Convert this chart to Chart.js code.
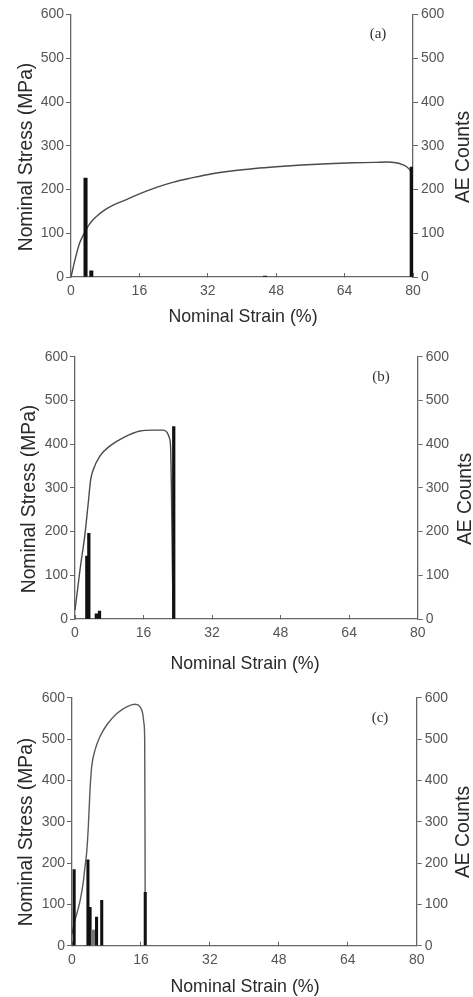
<!DOCTYPE html>
<html>
<head>
<meta charset="utf-8">
<script src="https://cdn.jsdelivr.net/npm/chart.js@4/dist/chart.umd.min.js"></script>
<style>
    body { margin:0; background:#fff; width:473px; height:997px; position:relative; overflow:hidden; }
    canvas { position:absolute; left:0; }
    .t { position:absolute; font-family:'Liberation Sans', Arial, sans-serif; font-size:17.8px; color:#2a2a2a; white-space:nowrap; transform:translate(-50%,-50%) scaleY(1.08); }
    .r { font-size:19.3px; transform:translate(-50%,-50%) rotate(-90deg); }
    .p { position:absolute; font-family:'Liberation Serif', 'Times New Roman', serif; font-size:15px; color:#333; transform:translate(-50%,-50%); }
</style>
</head>
<body>
<canvas id="chart-a" width="473" height="330" style="top:0px;"></canvas>
<canvas id="chart-b" width="473" height="330" style="top:330px;"></canvas>
<canvas id="chart-c" width="473" height="337" style="top:660px;"></canvas>

<div class="t" style="left:243px; top:316px;">Nominal Strain (%)</div>
<div class="t" style="left:245px; top:663px;">Nominal Strain (%)</div>
<div class="t" style="left:245px; top:986px;">Nominal Strain (%)</div>

<div class="t r" style="left:26px; top:157px;">Nominal Stress (MPa)</div>
<div class="t r" style="left:29px; top:499px;">Nominal Stress (MPa)</div>
<div class="t r" style="left:26px; top:832px;">Nominal Stress (MPa)</div>

<div class="t r" style="left:463px; top:157px;">AE Counts</div>
<div class="t r" style="left:465px; top:499px;">AE Counts</div>
<div class="t r" style="left:463px; top:832px;">AE Counts</div>

<div class="p" style="left:378px; top:33px;">(a)</div>
<div class="p" style="left:381px; top:376px;">(b)</div>
<div class="p" style="left:380px; top:717px;">(c)</div>

<script>
const strainTicks = [0, 16, 32, 48, 64, 80];
const stressTicks = [0, 100, 200, 300, 400, 500, 600];

// (a)
const aStrain   = [0, 1, 2, 3, 4, 5, 6, 8, 10, 13, 16, 20, 24, 28, 33, 38, 43, 48, 54, 60, 66, 71, 74, 76, 77.5, 78.5, 79.3, 79.8, 80];
const aStress   = [0, 42, 77, 98, 116, 129, 139, 154, 165, 177, 190, 205, 217, 226, 236, 243, 248, 252, 256, 259, 261, 262, 263, 261, 257, 252, 244, 233, 221];
const aAEStrain = [3.4, 4.75, 45.4, 79.7];
const aAECounts = [226, 14, 2, 251];

// (b)
const bStrain   = [0, 1.2, 2.3, 3.1, 3.66, 4.28, 5.84, 8.17, 11.3, 15.2, 18.3, 20.6, 21.5, 22.0, 22.3, 22.5, 22.7, 22.9];
const bStress   = [20, 115, 192, 266, 319, 342, 373, 396, 415, 430, 432, 432, 427, 415, 396, 304, 150, 0];
const bAEStrain = [2.76, 3.23, 4.98, 5.72, 23.05];
const bAECounts = [144, 196, 12, 18, 440];

// (c)
const cStrain   = [0, 0.7, 1.5, 2.0, 2.63, 3.0, 3.4, 3.79, 4.18, 4.57, 5.34, 6.5, 8.05, 10.4, 12.7, 14.6, 15.8, 16.4, 16.7, 16.87, 16.94, 17.0];
const cStress   = [28, 62, 92, 115, 155, 190, 225, 288, 377, 433, 473, 506, 534, 562, 578, 584, 578, 562, 538, 498, 296, 0];
const cAEStrain = [0.5, 3.7, 4.2, 4.75, 5.2, 5.7, 6.9, 17.0];
const cAECounts = [184, 208, 93, 38, 38, 69, 110, 129];

const tickFont = { family: "'Liberation Sans', Arial, sans-serif", size: 14 };
const axisColor = '#666';

function makePanel(id, strain, stress, aeStrain, aeCounts, barColors, lineColor, box) {
    const ctx = document.getElementById(id).getContext('2d');
    return new Chart(ctx, {
        type: 'bar',
        data: {
            datasets: [
                {
                    type: 'bar',
                    data: aeStrain.map((x, i) => ({ x, y: aeCounts[i] })),
                    yAxisID: 'y1',
                    backgroundColor: barColors,
                    barThickness: box.bar,
                    grouped: false,
                    order: 0,
                },
                {
                    type: 'line',
                    data: strain.map((x, i) => ({ x, y: stress[i] })),
                    yAxisID: 'y',
                    borderColor: lineColor,
                    borderWidth: 1.4,
                    pointRadius: 0,
                    cubicInterpolationMode: 'monotone',
                    order: 1,
                },
            ],
        },
        options: {
            responsive: false,
            animation: false,
            layout: { padding: { top: box.top, left: 0, right: 0, bottom: 0 } },
            plugins: { legend: { display: false }, tooltip: { enabled: false } },
            scales: {
                x: {
                    type: 'linear', min: 0, max: 80, offset: false,
                    afterBuildTicks: s => { s.ticks = strainTicks.map(v => ({ value: v })); },
                    afterFit: s => { s.height = box.bottom; },
                    grid: { drawOnChartArea: false, offset: false, tickLength: -4, color: axisColor },
                    border: { color: axisColor, width: 1.3 },
                    ticks: { font: tickFont, color: '#555', padding: 10, maxRotation: 0 },
                },
                y: {
                    position: 'left', min: 0, max: 600,
                    afterBuildTicks: s => { s.ticks = stressTicks.map(v => ({ value: v })); },
                    afterFit: s => { s.width = box.left; },
                    grid: { drawOnChartArea: false, tickLength: 5, color: axisColor },
                    border: { color: axisColor, width: 1.3 },
                    ticks: { font: tickFont, color: '#555', padding: 2 },
                },
                y1: {
                    position: 'right', min: 0, max: 600,
                    afterBuildTicks: s => { s.ticks = stressTicks.map(v => ({ value: v })); },
                    afterFit: s => { s.width = box.right; },
                    grid: { drawOnChartArea: false, tickLength: 5, color: axisColor },
                    border: { color: axisColor, width: 1.3 },
                    ticks: { font: tickFont, color: '#555', padding: 3 },
                },
            },
        },
    });
}

makePanel('chart-a', aStrain, aStress, aAEStrain, aAECounts, '#111', '#4a4a4a',
    { top: 14.5, bottom: 53, left: 71, right: 60, bar: 3.4 });
makePanel('chart-b', bStrain, bStress, bAEStrain, bAECounts, '#111', '#4a4a4a',
    { top: 26.7, bottom: 41, left: 75, right: 55.3, bar: 2.6 });
makePanel('chart-c', cStrain, cStress, cAEStrain, cAECounts,
    ['#111', '#111', '#111', '#777', '#777', '#111', '#111', '#111'], '#5a5a5a',
    { top: 37.7, bottom: 51.3, left: 72, right: 56.3, bar: 2.4 });
</script>
</body>
</html>
